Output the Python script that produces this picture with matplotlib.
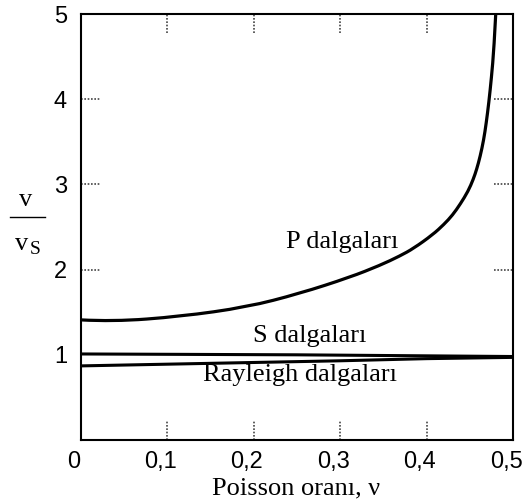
import matplotlib
matplotlib.use('Agg')
import matplotlib.pyplot as plt
import matplotlib.transforms as mtransforms
from matplotlib.path import Path
from matplotlib.patches import PathPatch

plt.rcParams['font.family'] = 'Liberation Sans'

# values
nu_p = [0.0, 0.037, 0.115, 0.192, 0.253, 0.311, 0.346, 0.369, 0.385, 0.407,
        0.420, 0.430, 0.439, 0.448, 0.454, 0.458, 0.462, 0.466, 0.469, 0.472,
        0.475, 0.478, 0.480]
v_p = [1.41, 1.39, 1.45, 1.56, 1.72, 1.91, 2.05, 2.16, 2.25, 2.41,
       2.53, 2.64, 2.77, 2.92, 3.06, 3.18, 3.33, 3.52, 3.72, 3.96,
       4.25, 4.60, 5.00]

nu_s = [0.0, 0.25, 0.5]
v_s = [1.01, 1.00, 0.98]

nu_r = [0.0, 0.1, 0.2, 0.3, 0.4, 0.5]
v_r = [0.87, 0.89, 0.91, 0.93, 0.955, 0.97]

xticks = [0.0, 0.1, 0.2, 0.3, 0.4, 0.5]
xticklabels = ['0', '0,1', '0,2', '0,3', '0,4', '0,5']
yticks = [1, 2, 3, 4, 5]
inner_x = [0.1, 0.2, 0.3, 0.4]
inner_y = [2, 3, 4]


def smooth_path(xs, ys):
    # quadratic bezier through midpoints, read points act as control points
    pts = list(zip(xs, ys))
    verts = [pts[0]]
    codes = [Path.MOVETO]
    for i in range(1, len(pts) - 1):
        mid = ((pts[i][0] + pts[i + 1][0]) / 2, (pts[i][1] + pts[i + 1][1]) / 2)
        if i == len(pts) - 2:
            mid = pts[-1]
        verts += [pts[i], mid]
        codes += [Path.CURVE3, Path.CURVE3]
    return Path(verts, codes)


fig = plt.figure(figsize=(5.28, 5.04), dpi=100)
ax = fig.add_axes([0.1534, 0.127, 0.8182, 0.845])

ax.add_patch(PathPatch(smooth_path(nu_p, v_p), facecolor='none', edgecolor='black',
                       linewidth=2.3, joinstyle='round'))
ax.plot(nu_s, v_s, color='black', linewidth=2.2)
ax.plot(nu_r, v_r, color='black', linewidth=2.2)

ax.set_xlim(0, 0.5)
ax.set_ylim(0, 5)
for sp in ax.spines.values():
    sp.set_linewidth(1.5)

ax.set_xticks(xticks)
ax.set_xticklabels(xticklabels)
ax.set_yticks(yticks)
ax.tick_params(length=0, labelsize=17, pad=8)
ax.tick_params(axis='y', pad=10)
# labels in the original sit a little left of their ticks
shift = mtransforms.ScaledTranslation(-7 / 100, 0, fig.dpi_scale_trans)
for lab in ax.get_xticklabels():
    lab.set_transform(lab.get_transform() + shift)

# dotted inner ticks
tick_style = dict(color='#444444', linewidth=1.2, linestyles=(0, (1, 1)))
ax.vlines(inner_x, 0, 0.045, transform=ax.get_xaxis_transform(), **tick_style)
ax.vlines(inner_x, 0.955, 1, transform=ax.get_xaxis_transform(), **tick_style)
ax.hlines(inner_y, 0, 0.045, transform=ax.get_yaxis_transform(), **tick_style)
ax.hlines(inner_y, 0.955, 1, transform=ax.get_yaxis_transform(), **tick_style)

serif = 'Liberation Serif'
ax.text(0.237, 2.33, 'P dalgaları', family=serif, fontsize=19, ha='left', va='center')
ax.text(0.265, 1.22, 'S dalgaları', family=serif, fontsize=19, ha='center', va='center')
ax.text(0.2535, 0.76, 'Rayleigh dalgaları', family=serif, fontsize=19, ha='center', va='center')

fig.text(296 / 528, 1 - 488 / 504, 'Poisson oranı, ν', family=serif, fontsize=19,
         ha='center', va='center')

# y label as a fraction v / v_S
fig.text(26 / 528, 1 - 200 / 504, 'v', family=serif, fontsize=19, ha='center', va='center')
fig.add_artist(plt.Line2D([10 / 528, 45 / 528], [1 - 217 / 504, 1 - 217 / 504],
                          color='black', linewidth=1.0))
fig.text(22 / 528, 1 - 244 / 504, 'v', family=serif, fontsize=19, ha='center', va='center')
fig.text(35 / 528, 1 - 250 / 504, 'S', family=serif, fontsize=14, ha='center', va='center')

fig.savefig('out.png', dpi=100)
